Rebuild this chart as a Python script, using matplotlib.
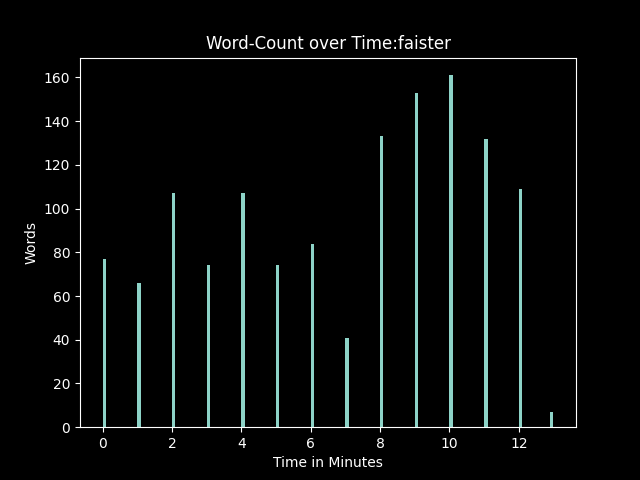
import matplotlib
matplotlib.use('Agg')
import matplotlib.pyplot as plt

# minutes and word counts per minute
minutes = [0, 1, 2, 3, 4, 5, 6, 7, 8, 9, 10, 11, 12, 13]
words = [77, 66, 107, 74, 107, 74, 84, 41, 133, 153, 161, 132, 109, 7]

plt.style.use('dark_background')
fig = plt.figure(figsize=(6.4, 4.8), dpi=100)

plt.hist(minutes, bins=130, weights=words)
plt.title('Word-Count over Time:faister')
plt.xlabel('Time in Minutes')
plt.ylabel('Words')

plt.savefig('out.png')
